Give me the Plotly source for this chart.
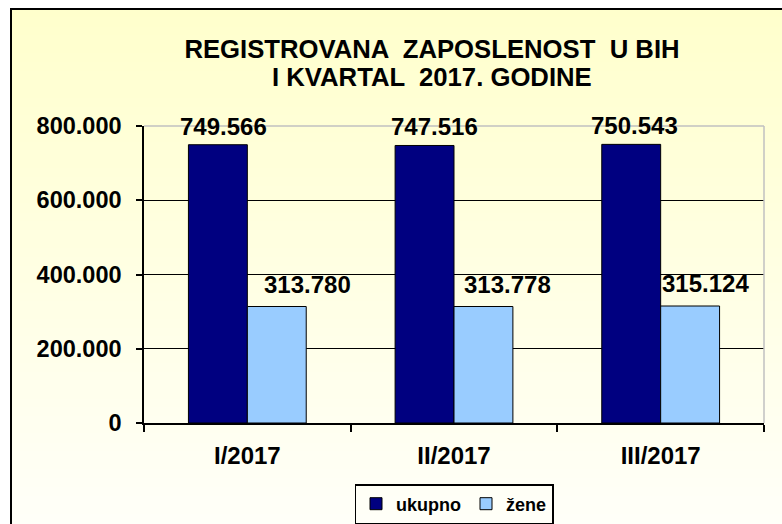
import plotly.graph_objects as go

categories = ["I/2017", "II/2017", "III/2017"]
ukupno = [749566, 747516, 750543]
zene = [313780, 313778, 315124]
series_names = ["ukupno", "žene"]
title_lines = ["REGISTROVANA  ZAPOSLENOST  U BIH", "I KVARTAL  2017. GODINE"]
y_ticks = [0, 200000, 400000, 600000, 800000]

FONT = "Arial, 'Liberation Sans', sans-serif"
W, H = 782, 524
L, R, T, B = 144, 18, 126, 101
PW, PH = W - L - R, H - T - B


def fmt(v):
    return f"{v:,}".replace(",", ".")


def px_to_paper_y(ypx):
    return (H - B - ypx) / PH


def px_to_paper_x(xpx):
    return (xpx - L) / PW


fig = go.Figure()
fig.add_trace(go.Bar(x=categories, y=ukupno, name=series_names[0],
                     marker=dict(color="#000080", line=dict(color="#000000", width=1))))
fig.add_trace(go.Bar(x=categories, y=zene, name=series_names[1],
                     marker=dict(color="#99CCFF", line=dict(color="#000000", width=1))))

annotations = []
label_xshift = {0: [-24, -20, -26], 1: [60, 53, 45]}
label_yshift = {0: 3, 1: 7}
for si, vals in enumerate((ukupno, zene)):
    for ci, (c, v) in enumerate(zip(categories, vals)):
        annotations.append(dict(x=c, y=v, xref="x", yref="y", text=fmt(v), showarrow=False,
                                xanchor="center", yanchor="bottom",
                                xshift=label_xshift[si][ci], yshift=label_yshift[si],
                                font=dict(family=FONT, size=24, color="#000000", weight="bold")))
# second title line
annotations.append(dict(x=px_to_paper_x(432), y=px_to_paper_y(77), xref="paper", yref="paper",
                        text=title_lines[1], showarrow=False, xanchor="center", yanchor="middle",
                        font=dict(family=FONT, size=25.7, color="#000000", weight="bold")))

# background gradient (light yellow to near white) in bands
shapes = []
top_px, bot_px = 9, 540
n = 60
c0 = (255, 255, 204)
c1 = (255, 255, 250)
for i in range(n):
    y0 = top_px + (bot_px - top_px) * i / n
    y1 = top_px + (bot_px - top_px) * (i + 1) / n + 1
    t = (i + 0.5) / n
    col = tuple(round(a + (b - a) * t) for a, b in zip(c0, c1))
    shapes.append(dict(type="rect", xref="paper", yref="paper", layer="below",
                       x0=px_to_paper_x(11), x1=px_to_paper_x(800),
                       y0=px_to_paper_y(y1), y1=px_to_paper_y(y0),
                       fillcolor="rgb(%d,%d,%d)" % col, line=dict(width=0)))
# outer chart border
shapes.append(dict(type="rect", xref="paper", yref="paper", layer="above",
                   x0=px_to_paper_x(11), x1=px_to_paper_x(800),
                   y0=px_to_paper_y(540), y1=px_to_paper_y(9),
                   line=dict(color="#000000", width=2), fillcolor="rgba(0,0,0,0)"))
# plot area border (grey top and right)
shapes.append(dict(type="line", xref="paper", yref="paper", layer="above",
                   x0=0, x1=1, y0=1, y1=1, line=dict(color="#C0C0C0", width=1.5)))
shapes.append(dict(type="line", xref="paper", yref="paper", layer="above",
                   x0=1, x1=1, y0=0, y1=1, line=dict(color="#C0C0C0", width=1.5)))

fig.update_layout(
    width=W, height=H,
    margin=dict(l=L, r=R, t=T, b=B, pad=0, autoexpand=False),
    paper_bgcolor="#FFFFFF",
    plot_bgcolor="rgba(0,0,0,0)",
    separators=",.",
    barmode="group",
    bargap=0.43,
    bargroupgap=0,
    title=dict(text=title_lines[0], x=432 / W, xanchor="center", xref="container",
               y=1 - 49 / H, yanchor="middle", yref="container",
               font=dict(family=FONT, size=25.7, color="#000000", weight="bold")),
    font=dict(family=FONT, color="#000000", weight="bold"),
    xaxis=dict(showline=True, linecolor="#000000", linewidth=1.5, ticks="outside",
               tickson="boundaries", ticklen=7, tickcolor="#000000", tickwidth=1.5,
               showgrid=False, ticklabelstandoff=10, automargin=False,
               tickfont=dict(family=FONT, size=24, color="#000000", weight="bold")),
    yaxis=dict(range=[0, 800000], tickvals=y_ticks, tickformat=",d",
               showline=True, linecolor="#000000", linewidth=1.5, ticks="outside",
               ticklen=6, tickcolor="#000000", tickwidth=1.5,
               showgrid=True, gridcolor="#000000", gridwidth=1, zeroline=False,
               ticklabelstandoff=10, automargin=False,
               tickfont=dict(family=FONT, size=23.5, color="#000000", weight="bold")),
    legend=dict(orientation="h", x=454 / W, xanchor="center", xref="container",
                y=1 - 504 / H, yanchor="middle", yref="container",
                bordercolor="#000000", borderwidth=1.5, bgcolor="rgba(0,0,0,0)",
                font=dict(family=FONT, size=18, color="#000000", weight="bold"),
                traceorder="normal"),
    shapes=shapes,
    annotations=annotations,
)

fig.write_html("out.html", config={"displayModeBar": False},
               post_script="document.body.style.margin='0';")
